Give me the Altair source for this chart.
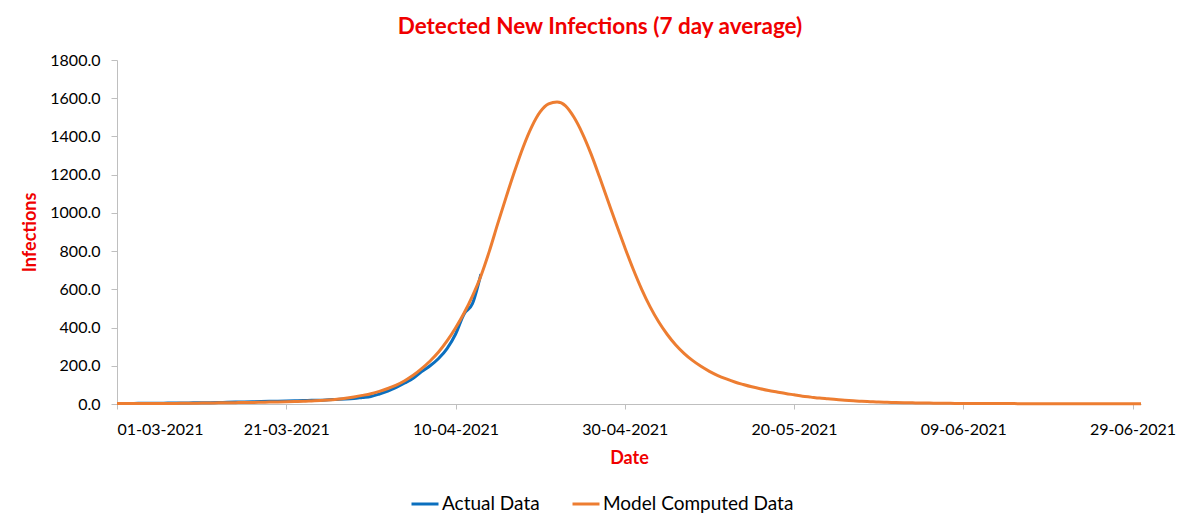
import altair as alt
import pandas as pd

# ---- data (daily values) ----
model_values = [
    2, 2, 2, 2, 3, 3, 3, 3, 4, 4,            # 01-03 .. 10-03
    5, 5, 6, 6, 7, 8, 8, 9, 10, 11,          # 11-03 .. 20-03
    12, 13, 14, 16, 18, 21, 25, 30, 37, 45,  # 21-03 .. 30-03
    54, 66, 81, 99, 122, 150, 185, 225, 272, 330,        # 31-03 .. 09-04
    398, 475, 565, 670, 800, 945, 1085, 1220, 1345, 1450,  # 10-04 .. 19-04
    1528, 1570, 1580, 1560, 1500, 1415, 1310, 1190, 1065, 940,  # 20-04 .. 29-04
    820, 705, 600, 508, 430, 365, 310, 265, 228, 197,    # 30-04 .. 09-05
    171, 149, 131, 115, 102, 90, 80, 71, 63, 55,         # 10-05 .. 19-05
    48, 41, 36, 31, 27, 23, 20, 17, 14, 12,              # 20-05 .. 29-05
    10, 9, 8, 7, 6, 5, 5, 4, 4, 3,                       # 30-05 .. 08-06
    3, 3, 2, 2, 2, 2, 2, 1, 1, 1,                        # 09-06 .. 18-06
    1, 1, 1, 1, 1, 1, 1, 1, 1, 1,                        # 19-06 .. 28-06
    1, 1,                                                # 29-06 .. 30-06
]

actual_values = [
    3, 3, 3, 4, 4, 4, 5, 5, 5, 6,
    6, 7, 8, 9, 10, 11, 12, 13, 14, 15,
    16, 17, 18, 19, 20, 22, 24, 26, 29, 34,
    39, 52, 68, 87, 110, 135, 170, 200, 238, 290,
    365, 470, 525, 680,
]

start_date = "2021-03-01"
model_dates = pd.date_range(start_date, periods=len(model_values), freq="D").strftime("%Y-%m-%d").tolist()
actual_dates = model_dates[:len(actual_values)]

tick_dates = [(2021, 3, 1), (2021, 3, 21), (2021, 4, 10), (2021, 4, 30),
              (2021, 5, 20), (2021, 6, 9), (2021, 6, 29)]
y_ticks = [0, 200, 400, 600, 800, 1000, 1200, 1400, 1600, 1800]

series_names = ["Actual Data", "Model Computed Data"]
series_colors = ["#0B6FBE", "#ED7D31"]

df_actual = pd.DataFrame({"date": actual_dates, "value": actual_values, "series": series_names[0]})
df_model = pd.DataFrame({"date": model_dates, "value": model_values, "series": series_names[1]})

FONT = "Lato"
RED = "#F00000"

def dt(t):
    return alt.DateTime(year=t[0], month=t[1], date=t[2], utc=True)

x_enc = alt.X(
    "date:T",
    scale=alt.Scale(type="utc", domain=[dt((2021, 3, 1)), dt((2021, 6, 30))]),
    axis=alt.Axis(
        values=[dt(t) for t in tick_dates],
        labelExpr="utcFormat(datum.value, '%d-%m-%Y')",
        title="Date",
        labelPadding=12,
        titlePadding=12,
    ),
)
y_enc = alt.Y(
    "value:Q",
    scale=alt.Scale(domain=[0, 1800], nice=False),
    axis=alt.Axis(values=y_ticks, format=".1f", title="Infections",
                  titlePadding=10, labelPadding=11, tickSize=6),
)
color_enc = alt.Color(
    "series:N",
    scale=alt.Scale(domain=series_names, range=series_colors),
    legend=alt.Legend(
        title=None,
        orient="none",
        direction="horizontal",
        legendX=293,
        legendY=429,
        symbolType="stroke",
        symbolSize=729,
        symbolStrokeWidth=3,
        labelFontSize=19,
        labelFont=FONT,
        labelColor="#000000",
        labelOffset=2,
        labelLimit=0,
        columnPadding=26,
    ),
)

actual_line = alt.Chart(df_actual).mark_line(strokeWidth=3, interpolate="monotone").encode(
    x=x_enc, y=y_enc, color=color_enc
)
model_line = alt.Chart(df_model).mark_line(strokeWidth=3, interpolate="monotone").encode(
    x=x_enc, y=y_enc, color=color_enc
)

chart = (
    alt.layer(actual_line, model_line)
    .properties(
        width=1024,
        height=344,
        autosize=alt.AutoSizeParams(type="none"),
        padding={"left": 109, "top": 52, "right": 51, "bottom": 114},
        title=alt.Title(
            "Detected New Infections (7 day average)",
            color=RED,
            font=FONT,
            fontSize=22.5,
            fontWeight="bold",
            anchor="middle",
            dx=-29,
            offset=14,
        ),
    )
    .configure_view(stroke=None)
    .configure_axis(
        grid=False,
        domainColor="#BFBFBF",
        tickColor="#BFBFBF",
        tickSize=5,
        labelFont=FONT,
        labelFontSize=16,
        labelColor="#000000",
        titleFont=FONT,
        titleFontSize=18,
        titleFontWeight="bold",
        titleColor=RED,
    )
)

chart.save("out.html", embed_options={"renderer": "svg", "actions": False})
